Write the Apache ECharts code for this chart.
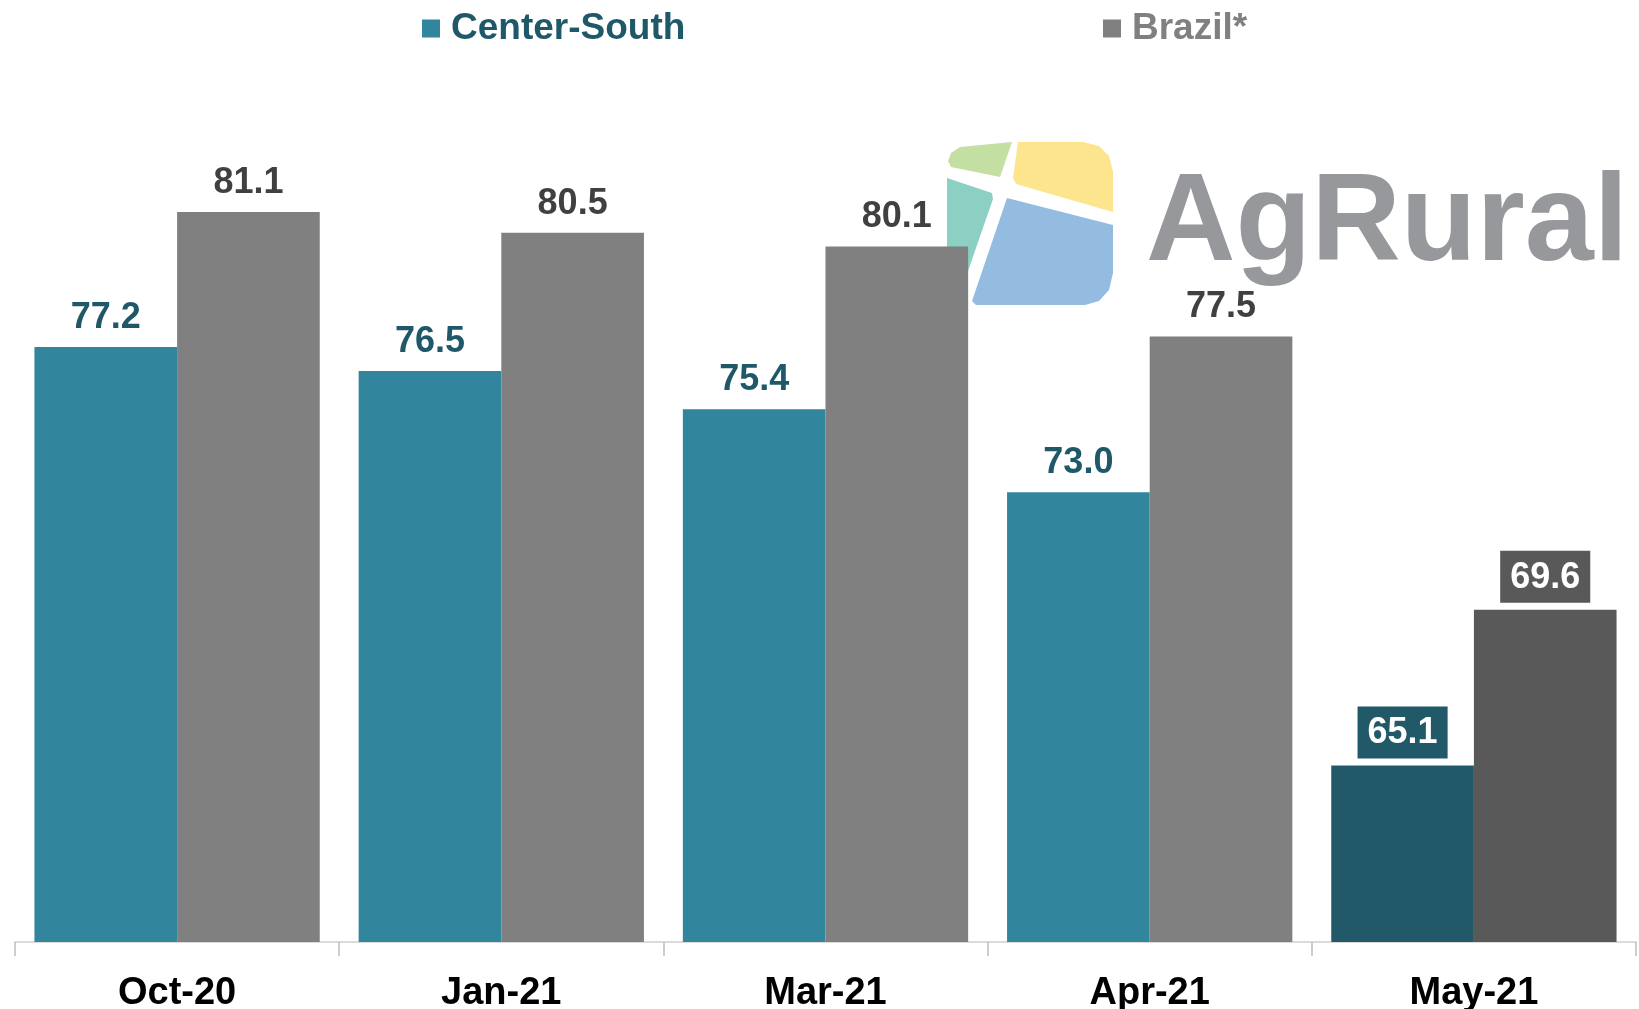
<!DOCTYPE html>
<html>
<head>
<meta charset="utf-8">
<script src="https://cdn.jsdelivr.net/npm/echarts@6/dist/echarts.min.js"></script>
<style>
  html, body { margin: 0; padding: 0; background: #fff; }
  #main { width: 1639px; height: 1009px; }
</style>
</head>
<body>
<div id="main"></div>
<script>
// chart values
const categories = ['Oct-20', 'Jan-21', 'Mar-21', 'Apr-21', 'May-21'];
const centerSouth = [77.2, 76.5, 75.4, 73.0, 65.1];
const brazil = [81.1, 80.5, 80.1, 77.5, 69.6];
const highlightIndex = 4; // last month drawn darker, labels boxed

const FONT = '"Liberation Sans", Arial, sans-serif';
const csColor = '#31859c', csDark = '#215968', csText = '#1f5868';
const brColor = '#808080', brDark = '#595959', brText = '#404040';

function buildData(values, dark) {
  return values.map(function (v, i) {
    if (i !== highlightIndex) return v;
    return {
      value: v,
      itemStyle: { color: dark },
      label: {
        color: '#fff',
        backgroundColor: dark,
        padding: [9, 10, 7, 10],
        distance: 7
      }
    };
  });
}

const chart = echarts.init(document.getElementById('main'));

const option = {
  backgroundColor: '#fff',
  textStyle: { fontFamily: FONT },
  animation: false,
  legend: [{
    left: 417, top: 5,
    icon: 'rect', itemWidth: 18, itemHeight: 18,
    textStyle: { fontSize: 37, fontWeight: 'bold', color: csText, fontFamily: FONT, padding: [0, 0, 0, 6] },
    data: ['Center-South']
  }, {
    left: 1098, top: 5,
    icon: 'rect', itemWidth: 18, itemHeight: 18,
    textStyle: { fontSize: 37, fontWeight: 'bold', color: brColor, fontFamily: FONT, padding: [0, 0, 0, 6] },
    data: ['Brazil*']
  }],
  grid: { left: 15, right: 3, top: 180.8, bottom: 67, outerBoundsMode: 'none', containLabel: false },
  xAxis: {
    type: 'category',
    data: categories,
    axisLine: { lineStyle: { color: '#d0d0d0', width: 1.5 } },
    axisTick: { show: true, length: 14, lineStyle: { color: '#bdbdbd', width: 1.5 } },
    axisLabel: { fontSize: 38, fontWeight: 'bold', color: '#000', margin: 33, fontFamily: FONT }
  },
  yAxis: {
    type: 'value', min: 60, max: 82,
    show: false,
    splitLine: { show: false }
  },
  series: [{
    name: 'Center-South',
    type: 'bar',
    barGap: '0%',
    barCategoryGap: '12%',
    itemStyle: { color: csColor },
    label: {
      show: true, position: 'top', distance: 11,
      fontSize: 36, fontWeight: 'bold', color: csText, fontFamily: FONT,
      formatter: function (p) { return p.value.toFixed(1); }
    },
    data: buildData(centerSouth, csDark)
  }, {
    name: 'Brazil*',
    type: 'bar',
    barGap: '0%',
    barCategoryGap: '12%',
    itemStyle: { color: brColor },
    label: {
      show: true, position: 'top', distance: 11,
      fontSize: 36, fontWeight: 'bold', color: brText, fontFamily: FONT,
      formatter: function (p) { return p.value.toFixed(1); }
    },
    data: buildData(brazil, brDark)
  }],
  // AgRural watermark, drawn over the bars with multiply blend
  graphic: [{
    type: 'group',
    z: 100,
    children: [{
      type: 'polygon',
      shape: { points: [[960, 147], [1012, 142], [1000, 177], [951, 167], [948, 161], [951, 153]] },
      style: { fill: '#c4dfa2', blend: 'multiply' }
    }, {
      type: 'polygon',
      shape: { points: [[1018, 142], [1083, 142], [1099, 146], [1109, 156], [1113, 172], [1113, 212], [1016, 184], [1013, 178]] },
      style: { fill: '#fce58c', blend: 'multiply' }
    }, {
      type: 'polygon',
      shape: { points: [[947, 178], [992, 193], [993, 199], [960, 294], [956, 298], [951, 293], [947, 280]] },
      style: { fill: '#8ccfc3', blend: 'multiply' }
    }, {
      type: 'polygon',
      shape: { points: [[1007, 198], [1113, 225], [1113, 273], [1109, 290], [1099, 301], [1085, 305], [976, 305], [972, 301]] },
      style: { fill: '#93bce0', blend: 'multiply' }
    }, {
      type: 'text',
      x: 1146, y: 226,
      style: {
        text: 'AgRural',
        font: 'bold 124px ' + FONT,
        fill: '#97989c',
        verticalAlign: 'middle'
      }
    }]
  }]
};

chart.setOption(option);
</script>
</body>
</html>
